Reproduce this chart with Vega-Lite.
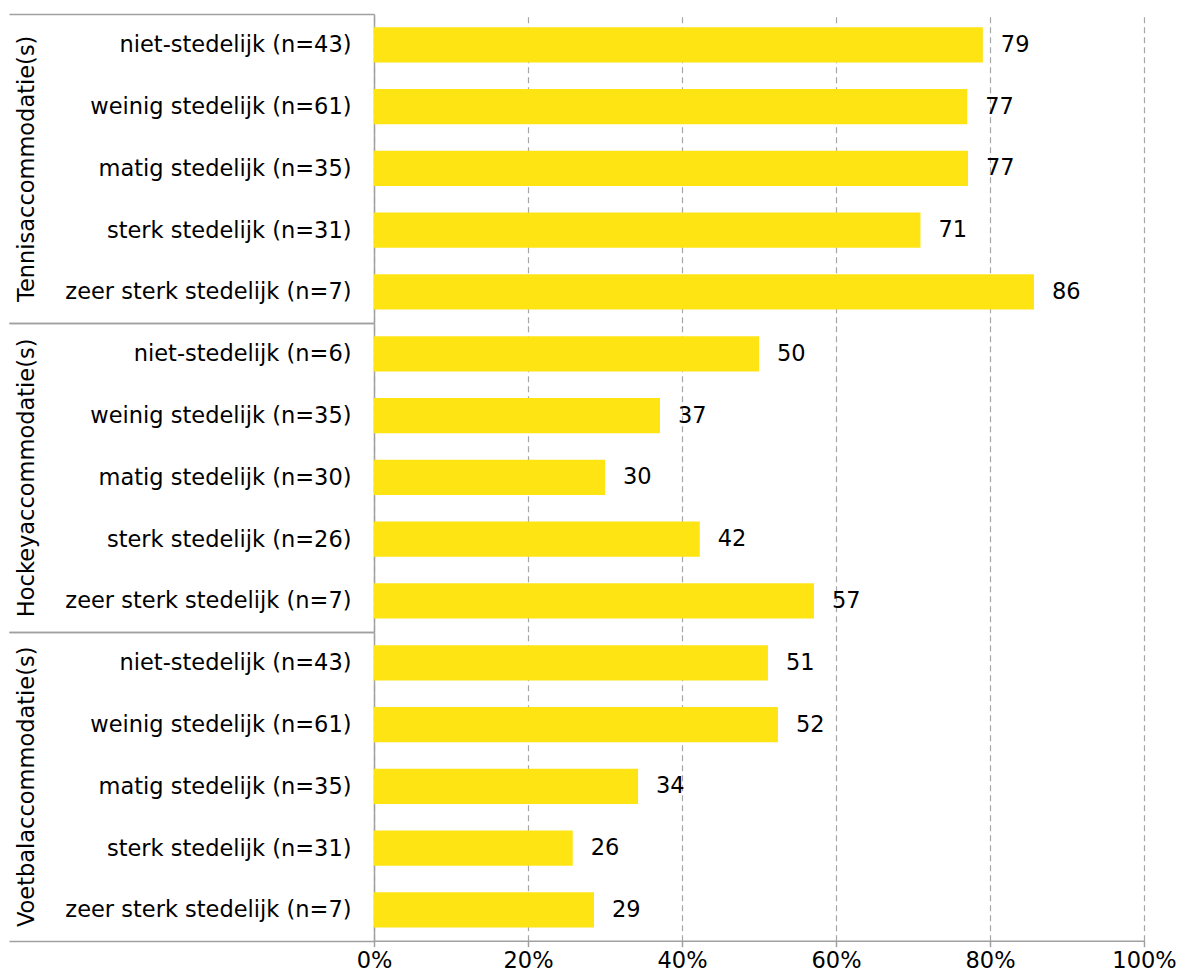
{
  "$schema": "https://vega.github.io/schema/vega-lite/v6.json",
  "padding": {"left": 8, "top": 3, "right": 0, "bottom": 0},
  "autosize": {"type": "pad"},
  "bounds": "flush",
  "background": "white",
  "config": {
    "font": "DejaVu Sans",
    "view": {"stroke": null},
    "axis": {"labelColor": "#000000", "titleColor": "#000000", "titleFontWeight": "normal"}
  },
  "data": {
    "values": [
      {"groep": "Tennisaccommodatie(s)", "volgorde": 1, "cat": "niet-stedelijk (n=43)", "pct": 79.07},
      {"groep": "Tennisaccommodatie(s)", "volgorde": 2, "cat": "weinig stedelijk (n=61)", "pct": 77.05},
      {"groep": "Tennisaccommodatie(s)", "volgorde": 3, "cat": "matig stedelijk (n=35)", "pct": 77.14},
      {"groep": "Tennisaccommodatie(s)", "volgorde": 4, "cat": "sterk stedelijk (n=31)", "pct": 70.97},
      {"groep": "Tennisaccommodatie(s)", "volgorde": 5, "cat": "zeer sterk stedelijk (n=7)", "pct": 85.71},
      {"groep": "Hockeyaccommodatie(s)", "volgorde": 1, "cat": "niet-stedelijk (n=6)", "pct": 50.0},
      {"groep": "Hockeyaccommodatie(s)", "volgorde": 2, "cat": "weinig stedelijk (n=35)", "pct": 37.14},
      {"groep": "Hockeyaccommodatie(s)", "volgorde": 3, "cat": "matig stedelijk (n=30)", "pct": 30.0},
      {"groep": "Hockeyaccommodatie(s)", "volgorde": 4, "cat": "sterk stedelijk (n=26)", "pct": 42.31},
      {"groep": "Hockeyaccommodatie(s)", "volgorde": 5, "cat": "zeer sterk stedelijk (n=7)", "pct": 57.14},
      {"groep": "Voetbalaccommodatie(s)", "volgorde": 1, "cat": "niet-stedelijk (n=43)", "pct": 51.16},
      {"groep": "Voetbalaccommodatie(s)", "volgorde": 2, "cat": "weinig stedelijk (n=61)", "pct": 52.46},
      {"groep": "Voetbalaccommodatie(s)", "volgorde": 3, "cat": "matig stedelijk (n=35)", "pct": 34.29},
      {"groep": "Voetbalaccommodatie(s)", "volgorde": 4, "cat": "sterk stedelijk (n=31)", "pct": 25.81},
      {"groep": "Voetbalaccommodatie(s)", "volgorde": 5, "cat": "zeer sterk stedelijk (n=7)", "pct": 28.57}
    ]
  },
  "spacing": 0,
  "vconcat": [
    {
      "width": 770,
      "height": 308.67,
      "transform": [{"filter": "datum.groep === 'Tennisaccommodatie(s)'"}],
      "encoding": {
        "y": {
          "field": "cat", "type": "nominal",
          "sort": {"field": "volgorde", "op": "min"},
          "scale": {"paddingInner": 0, "paddingOuter": 0},
          "axis": {
            "title": "Tennisaccommodatie(s)", "titleFontSize": 22.5, "titleX": -336, "titleY": 154.33,
            "tickBand": "extent", "tickSize": 365, "tickColor": "#a0a0a0", "tickWidth": 1.5,
            "tickOpacity": {"condition": {"test": "datum.index < 0 || datum.index >= 1", "value": 1}, "value": 0},
            "labelPadding": -342, "labelFontSize": 22.5, "labelLimit": 400,
            "domainColor": "#a0a0a0", "domainWidth": 1.5
          }
        },
        "x": {
          "field": "pct", "type": "quantitative",
          "scale": {"domain": [0, 100], "nice": false},
          "axis": {
            "title": null, "labels": false, "ticks": false, "domain": false,
            "grid": true, "gridDash": [6, 4], "gridColor": "#a6a6a6", "gridWidth": 1.2,
            "values": [0, 20, 40, 60, 80, 100]
          }
        }
      },
      "layer": [
        {"mark": {"type": "bar", "height": {"band": 0.57}, "color": "#FFE414"}},
        {"mark": {"type": "text", "align": "left", "baseline": "middle", "dx": 18, "fontSize": 22.5, "color": "#000000"},
         "encoding": {"text": {"field": "pct", "type": "quantitative", "format": ".0f"}}}
      ]
    },
    {
      "width": 770,
      "height": 308.67,
      "transform": [{"filter": "datum.groep === 'Hockeyaccommodatie(s)'"}],
      "encoding": {
        "y": {
          "field": "cat", "type": "nominal",
          "sort": {"field": "volgorde", "op": "min"},
          "scale": {"paddingInner": 0, "paddingOuter": 0},
          "axis": {
            "title": "Hockeyaccommodatie(s)", "titleFontSize": 22.5, "titleX": -336, "titleY": 154.33,
            "tickBand": "extent", "tickSize": 365, "tickColor": "#a0a0a0", "tickWidth": 1.5,
            "tickOpacity": {"condition": {"test": "datum.index < 0 || datum.index >= 1", "value": 1}, "value": 0},
            "labelPadding": -342, "labelFontSize": 22.5, "labelLimit": 400,
            "domainColor": "#a0a0a0", "domainWidth": 1.5
          }
        },
        "x": {
          "field": "pct", "type": "quantitative",
          "scale": {"domain": [0, 100], "nice": false},
          "axis": {
            "title": null, "labels": false, "ticks": false, "domain": false,
            "grid": true, "gridDash": [6, 4], "gridColor": "#a6a6a6", "gridWidth": 1.2,
            "values": [0, 20, 40, 60, 80, 100]
          }
        }
      },
      "layer": [
        {"mark": {"type": "bar", "height": {"band": 0.57}, "color": "#FFE414"}},
        {"mark": {"type": "text", "align": "left", "baseline": "middle", "dx": 18, "fontSize": 22.5, "color": "#000000"},
         "encoding": {"text": {"field": "pct", "type": "quantitative", "format": ".0f"}}}
      ]
    },
    {
      "width": 770,
      "height": 308.67,
      "transform": [{"filter": "datum.groep === 'Voetbalaccommodatie(s)'"}],
      "encoding": {
        "y": {
          "field": "cat", "type": "nominal",
          "sort": {"field": "volgorde", "op": "min"},
          "scale": {"paddingInner": 0, "paddingOuter": 0},
          "axis": {
            "title": "Voetbalaccommodatie(s)", "titleFontSize": 22.5, "titleX": -336, "titleY": 154.33,
            "tickBand": "extent", "tickSize": 365, "tickColor": "#a0a0a0", "tickWidth": 1.5,
            "tickOpacity": {"condition": {"test": "datum.index < 0 || datum.index >= 1", "value": 1}, "value": 0},
            "labelPadding": -342, "labelFontSize": 22.5, "labelLimit": 400,
            "domainColor": "#a0a0a0", "domainWidth": 1.5
          }
        },
        "x": {
          "field": "pct", "type": "quantitative",
          "scale": {"domain": [0, 100], "nice": false},
          "axis": {
            "title": null, "values": [0, 20, 40, 60, 80, 100],
            "labelExpr": "datum.value + '%'", "labelFontSize": 22.5, "labelPadding": 3, "labelFlush": false,
            "ticks": true, "tickSize": 6, "tickColor": "#a0a0a0", "tickWidth": 1.5,
            "domain": true, "domainColor": "#a0a0a0", "domainWidth": 1.5,
            "grid": true, "gridDash": [6, 4], "gridColor": "#a6a6a6", "gridWidth": 1.2
          }
        }
      },
      "layer": [
        {"mark": {"type": "bar", "height": {"band": 0.57}, "color": "#FFE414"}},
        {"mark": {"type": "text", "align": "left", "baseline": "middle", "dx": 18, "fontSize": 22.5, "color": "#000000"},
         "encoding": {"text": {"field": "pct", "type": "quantitative", "format": ".0f"}}}
      ]
    }
  ]
}
